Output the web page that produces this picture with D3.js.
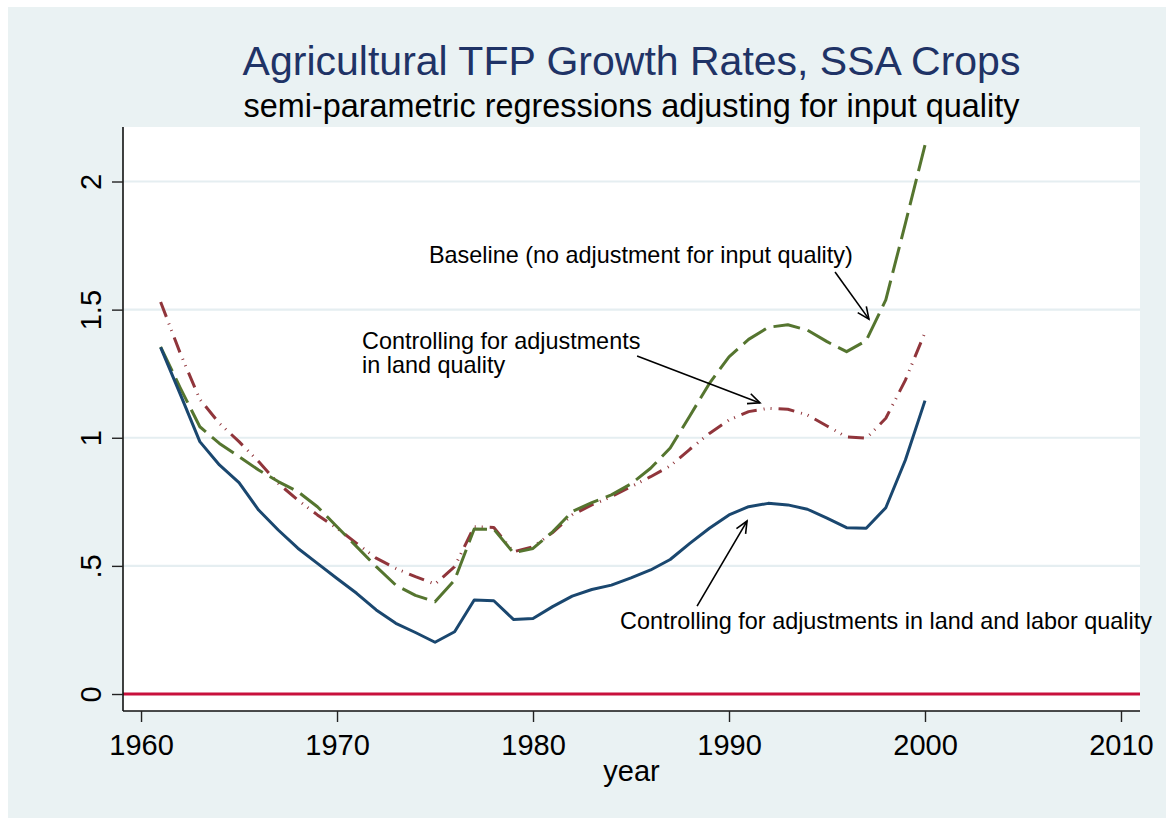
<!DOCTYPE html>
<html>
<head>
<meta charset="utf-8">
<script src="https://cdn.jsdelivr.net/npm/d3@7"></script>
<style>
  html, body { margin: 0; padding: 0; background: #ffffff; }
  svg { display: block; font-family: "Liberation Sans", Arial, sans-serif; }
</style>
</head>
<body>
<svg id="chart" width="1166" height="819"></svg>
<script>
// ---------- data ----------
const years = d3.range(1961, 2001);

const landLaborQuality = [1.353, 1.17, 0.985, 0.894, 0.825, 0.718, 0.64, 0.569, 0.51, 0.451,
  0.393, 0.328, 0.276, 0.24, 0.202, 0.243, 0.367, 0.364, 0.291, 0.295,
  0.341, 0.382, 0.408, 0.425, 0.453, 0.484, 0.525, 0.588, 0.647, 0.699,
  0.731, 0.744, 0.738, 0.721, 0.686, 0.649, 0.647, 0.727, 0.913, 1.145];

const baseline = [1.355, 1.195, 1.043, 0.978, 0.926, 0.874, 0.829, 0.79, 0.731, 0.653,
  0.575, 0.497, 0.425, 0.385, 0.36, 0.445, 0.644, 0.643, 0.551, 0.568,
  0.633, 0.712, 0.747, 0.777, 0.82, 0.881, 0.96, 1.085, 1.212, 1.316,
  1.384, 1.431, 1.441, 1.42, 1.375, 1.336, 1.379, 1.538, 1.837, 2.142];

const landQuality = [1.53, 1.33, 1.15, 1.056, 0.985, 0.907, 0.822, 0.757, 0.699, 0.647,
  0.588, 0.53, 0.49, 0.458, 0.429, 0.497, 0.653, 0.65, 0.555, 0.575,
  0.63, 0.699, 0.738, 0.77, 0.809, 0.848, 0.89, 0.955, 1.017, 1.069,
  1.102, 1.115, 1.111, 1.089, 1.046, 1.003, 0.998, 1.076, 1.225, 1.411];

const xTicks = [1960, 1970, 1980, 1990, 2000, 2010];
const yTicks = [0, 0.5, 1, 1.5, 2];
const yTickLabels = ["0", ".5", "1", "1.5", "2"];
const zeroLineValue = 0;

const titleText = "Agricultural TFP Growth Rates, SSA Crops";
const subtitleText = "semi-parametric regressions adjusting for input quality";
const xAxisTitle = "year";

// annotations: text in data coordinates, arrows [x1,y1] -> [x2,y2]
const annotations = [
  { lines: ["Baseline (no adjustment for input quality)"], x: 1974.69, y: 1.682 },
  { lines: ["Controlling for adjustments", "in land quality"], x: 1971.28, y: 1.346 },
  { lines: ["Controlling for adjustments in land and labor quality"], x: 1984.44, y: 0.254 }
];
const arrows = [
  { from: [1995.41, 1.647], to: [1997.14, 1.463] },
  { from: [1985.31, 1.319], to: [1991.58, 1.136] },
  { from: [1988.37, 0.343], to: [1990.92, 0.675] }
];

// ---------- layout ----------
const svg = d3.select("#chart");
const W = 1166, H = 819;
const plot = { left: 123, right: 1140, top: 127, bottom: 711 };

const x = d3.scaleLinear().domain([1959.08, 2010.97]).range([plot.left, plot.right]);
const y = d3.scaleLinear().domain([-0.0663, 2.2127]).range([plot.bottom, plot.top]);

// outer background
svg.append("rect").attr("x", 0).attr("y", 0).attr("width", W).attr("height", H).attr("fill", "#ffffff");
svg.append("rect").attr("x", 8).attr("y", 7).attr("width", W - 8).attr("height", 811).attr("fill", "#eaf2f3");
// plot region
svg.append("rect").attr("x", plot.left).attr("y", plot.top)
  .attr("width", plot.right - plot.left).attr("height", plot.bottom - plot.top).attr("fill", "#ffffff");

// gridlines
svg.append("g").selectAll("line").data(yTicks.filter(d => d !== 0)).join("line")
  .attr("x1", plot.left).attr("x2", plot.right)
  .attr("y1", d => y(d)).attr("y2", d => y(d))
  .attr("stroke", "#e5eef1").attr("stroke-width", 2.2);

// zero line
svg.append("line")
  .attr("x1", plot.left).attr("x2", plot.right)
  .attr("y1", y(zeroLineValue)).attr("y2", y(zeroLineValue))
  .attr("stroke", "#c8103c").attr("stroke-width", 3);

// axes
const yAxis = d3.axisLeft(y).tickValues(yTicks).tickSize(11).tickFormat((d, i) => yTickLabels[i]);
const gy = svg.append("g").attr("transform", `translate(${plot.left},0)`).call(yAxis);
gy.select(".domain").attr("d", `M0,${plot.top}V${plot.bottom}`).attr("stroke", "#111").attr("stroke-width", 1.6);
gy.selectAll(".tick line").attr("stroke", "#222").attr("stroke-width", 1.4);
gy.selectAll(".tick text")
  .attr("x", null).attr("dy", null)
  .attr("transform", "translate(-22,0) rotate(-90)")
  .attr("text-anchor", "middle")
  .attr("fill", "#000")
  .style("font-size", "29px")
  .style("font-family", "Liberation Sans, Arial, sans-serif");

const xAxis = d3.axisBottom(x).tickValues(xTicks).tickSize(11).tickFormat(d3.format("d"));
const gx = svg.append("g").attr("transform", `translate(0,${plot.bottom})`).call(xAxis);
gx.select(".domain").attr("d", `M${plot.left},0H${plot.right}`).attr("stroke", "#111").attr("stroke-width", 1.6);
gx.selectAll(".tick line").attr("stroke", "#222").attr("stroke-width", 1.4);
gx.selectAll(".tick text")
  .attr("y", 44).attr("dy", null)
  .attr("fill", "#000")
  .style("font-size", "29px")
  .style("font-family", "Liberation Sans, Arial, sans-serif");

// series
const line = d3.line().x((d, i) => x(years[i])).y(d => y(d));
const seriesDefs = [
  { values: landQuality, color: "#90353b", dash: "16 7 1 6 1 7", width: 3 },
  { values: baseline, color: "#55752f", dash: "27 8", width: 3 },
  { values: landLaborQuality, color: "#1a476f", dash: null, width: 3 }
];
svg.append("g").selectAll("path").data(seriesDefs).join("path")
  .attr("d", d => line(d.values))
  .attr("fill", "none")
  .attr("stroke", d => d.color)
  .attr("stroke-width", d => d.width)
  .attr("stroke-dasharray", d => d.dash)
  .attr("stroke-linejoin", "round")
  .attr("stroke-linecap", "butt");

// annotations text
const ag = svg.append("g").style("font-size", "23.4px").attr("fill", "#000");
annotations.forEach(a => {
  a.lines.forEach((t, k) => {
    ag.append("text").attr("x", x(a.x)).attr("y", y(a.y) + k * 24).text(t);
  });
});

// arrows
const arrG = svg.append("g").attr("stroke", "#000").attr("stroke-width", 1.6).attr("fill", "none");
arrows.forEach(a => {
  const x1 = x(a.from[0]), y1 = y(a.from[1]), x2 = x(a.to[0]), y2 = y(a.to[1]);
  arrG.append("line").attr("x1", x1).attr("y1", y1).attr("x2", x2).attr("y2", y2);
  const ang = Math.atan2(y2 - y1, x2 - x1);
  const L = 13, spread = 0.42;
  const p1 = [x2 - L * Math.cos(ang - spread), y2 - L * Math.sin(ang - spread)];
  const p2 = [x2 - L * Math.cos(ang + spread), y2 - L * Math.sin(ang + spread)];
  arrG.append("path").attr("d", `M${p1[0]},${p1[1]}L${x2},${y2}L${p2[0]},${p2[1]}`);
});

// titles
const cx = (plot.left + plot.right) / 2;
svg.append("text").attr("x", cx).attr("y", 75).attr("text-anchor", "middle")
  .attr("fill", "#1f3366").style("font-size", "41px").text(titleText);
svg.append("text").attr("x", cx).attr("y", 117).attr("text-anchor", "middle")
  .attr("fill", "#000").style("font-size", "32.4px").text(subtitleText);
svg.append("text").attr("x", cx).attr("y", 781).attr("text-anchor", "middle")
  .attr("fill", "#000").style("font-size", "29px").text(xAxisTitle);
</script>
</body>
</html>
